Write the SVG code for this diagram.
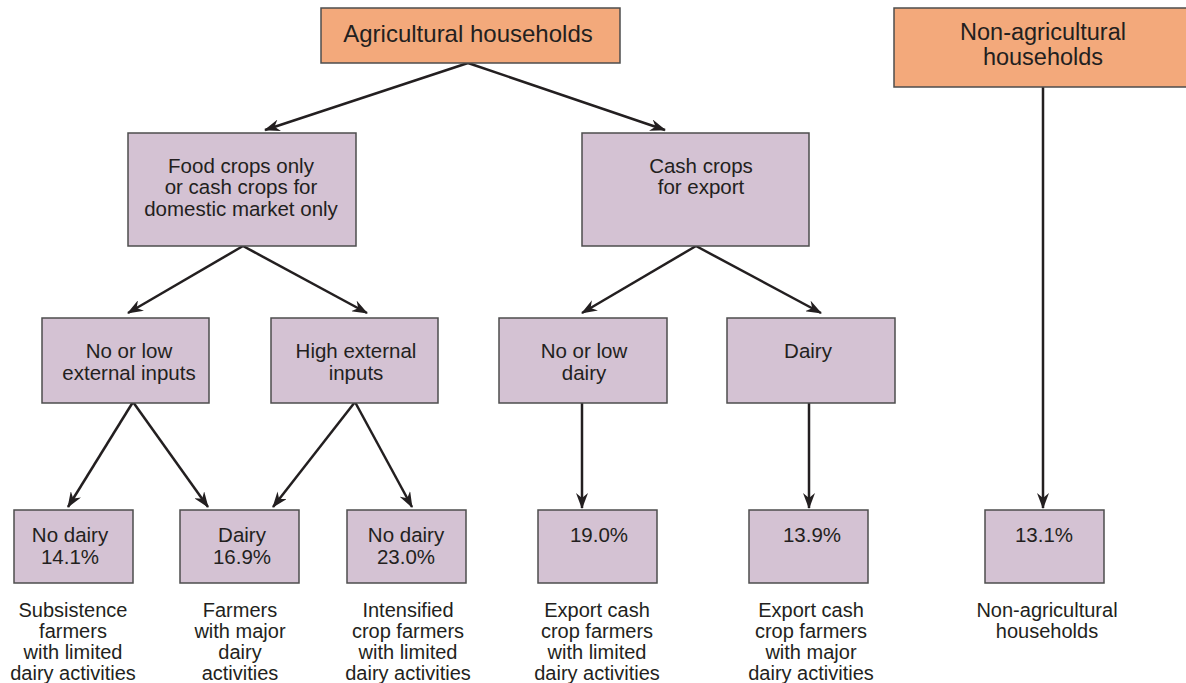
<svg xmlns="http://www.w3.org/2000/svg" width="1186" height="683" viewBox="0 0 1186 683">
<defs>
<marker id="ah" viewBox="0 0 16 12" refX="15" refY="6" markerWidth="16" markerHeight="12" markerUnits="userSpaceOnUse" orient="auto">
<path d="M0,0 L16,6 L0,12 L5,6 z" fill="#231f20"/>
</marker>
<style>
.top{fill:#f3a97b;stroke:#4d4d4d;stroke-width:1.5}
.box{fill:#d4c2d3;stroke:#4d4d4d;stroke-width:1.5}
text{font-family:"Liberation Sans",Arial,sans-serif;fill:#231f20;text-anchor:middle}
.t1{font-size:24px}
.t1b{font-size:23.5px}
.t2{font-size:20.5px}
.lb{font-size:20px}
.c{fill:none;stroke:#231f20;stroke-width:2.5;marker-end:url(#ah)}
</style>
</defs>
<rect width="1186" height="683" fill="#fff"/>
<g id="connectors">
<line class="c" x1="468" y1="63" x2="265" y2="130"/>
<line class="c" x1="468" y1="63" x2="665" y2="130"/>
<line class="c" x1="243" y1="246" x2="128" y2="313"/>
<line class="c" x1="243" y1="246" x2="367" y2="313"/>
<line class="c" x1="696" y1="246" x2="582" y2="313"/>
<line class="c" x1="696" y1="246" x2="821" y2="313"/>
<line class="c" x1="133" y1="402" x2="68" y2="507"/>
<line class="c" x1="133" y1="402" x2="208" y2="507"/>
<line class="c" x1="355" y1="402" x2="273" y2="507"/>
<line class="c" x1="355" y1="402" x2="412" y2="507"/>
<line class="c" x1="582" y1="402" x2="582" y2="508"/>
<line class="c" x1="809" y1="402" x2="809" y2="508"/>
<line class="c" x1="1043" y1="87" x2="1043" y2="508"/>
</g>
<g id="ag">
<rect class="top" x="321" y="8" width="299" height="55"/>
<text class="t1" x="468" y="42">Agricultural households</text>
</g>
<g id="nonag">
<rect class="top" x="894" y="8" width="293" height="79"/>
<text class="t1b" x="1043" y="40">Non-agricultural</text>
<text class="t1b" x="1043" y="65">households</text>
</g>
<g id="food">
<rect class="box" x="128" y="133" width="228" height="113"/>
<text class="t2" x="241" y="173">Food crops only</text>
<text class="t2" x="241" y="194">or cash crops for</text>
<text class="t2" x="241" y="216">domestic market only</text>
</g>
<g id="cash">
<rect class="box" x="582" y="133" width="227" height="113"/>
<text class="t2" x="701" y="173">Cash crops</text>
<text class="t2" x="701" y="194">for export</text>
</g>
<g id="lowext">
<rect class="box" x="42" y="318" width="167" height="85"/>
<text class="t2" x="129" y="358">No or low</text>
<text class="t2" x="129" y="380">external inputs</text>
</g>
<g id="highext">
<rect class="box" x="271" y="318" width="167" height="85"/>
<text class="t2" x="356" y="358">High external</text>
<text class="t2" x="356" y="380">inputs</text>
</g>
<g id="lowdairy">
<rect class="box" x="499" y="318" width="168" height="85"/>
<text class="t2" x="584" y="358">No or low</text>
<text class="t2" x="584" y="380">dairy</text>
</g>
<g id="dairy">
<rect class="box" x="727" y="318" width="168" height="85"/>
<text class="t2" x="808" y="358">Dairy</text>
</g>
<g id="n1">
<rect class="box" x="14" y="510" width="119" height="73"/>
<text class="t2" x="70" y="542">No dairy</text>
<text class="t2" x="70" y="564">14.1%</text>
<text class="lb" x="73" y="617">Subsistence</text>
<text class="lb" x="73" y="638">farmers</text>
<text class="lb" x="73" y="659">with limited</text>
<text class="lb" x="73" y="680">dairy activities</text>
</g>
<g id="n2">
<rect class="box" x="180" y="510" width="119" height="73"/>
<text class="t2" x="242" y="542">Dairy</text>
<text class="t2" x="242" y="564">16.9%</text>
<text class="lb" x="240" y="617">Farmers</text>
<text class="lb" x="240" y="638">with major</text>
<text class="lb" x="240" y="659">dairy</text>
<text class="lb" x="240" y="680">activities</text>
</g>
<g id="n3">
<rect class="box" x="347" y="510" width="119" height="73"/>
<text class="t2" x="406" y="542">No dairy</text>
<text class="t2" x="406" y="564">23.0%</text>
<text class="lb" x="408" y="617">Intensified</text>
<text class="lb" x="408" y="638">crop farmers</text>
<text class="lb" x="408" y="659">with limited</text>
<text class="lb" x="408" y="680">dairy activities</text>
</g>
<g id="n4">
<rect class="box" x="538" y="510" width="119" height="73"/>
<text class="t2" x="599" y="542">19.0%</text>
<text class="lb" x="597" y="617">Export cash</text>
<text class="lb" x="597" y="638">crop farmers</text>
<text class="lb" x="597" y="659">with limited</text>
<text class="lb" x="597" y="680">dairy activities</text>
</g>
<g id="n5">
<rect class="box" x="749" y="510" width="119" height="73"/>
<text class="t2" x="812" y="542">13.9%</text>
<text class="lb" x="811" y="617">Export cash</text>
<text class="lb" x="811" y="638">crop farmers</text>
<text class="lb" x="811" y="659">with major</text>
<text class="lb" x="811" y="680">dairy activities</text>
</g>
<g id="n6">
<rect class="box" x="985" y="510" width="119" height="73"/>
<text class="t2" x="1044" y="542">13.1%</text>
<text class="lb" x="1047" y="617">Non-agricultural</text>
<text class="lb" x="1047" y="638">households</text>
</g>
</svg>
